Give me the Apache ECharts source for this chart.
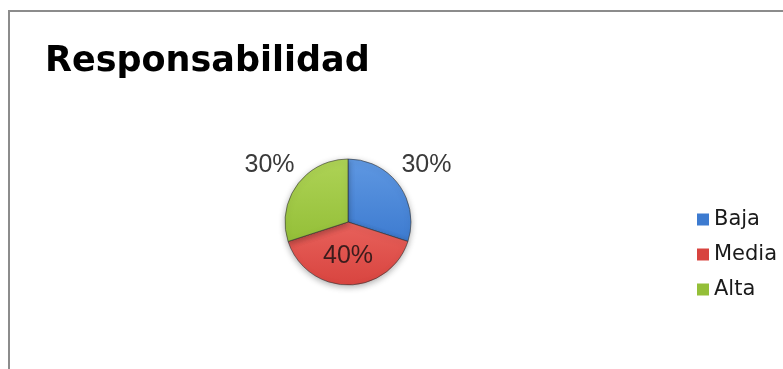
<!DOCTYPE html>
<html>
<head>
<meta charset="utf-8">
<script src="https://cdn.jsdelivr.net/npm/echarts@6/dist/echarts.min.js"></script>
<style>
  html, body { margin: 0; padding: 0; background: #ffffff; }
  #chart { width: 783px; height: 369px; }
</style>
</head>
<body>
<div id="chart"></div>
<script>
const titleText = 'Responsabilidad';
const categories = ['Baja', 'Media', 'Alta'];
const values = [30, 40, 30];
const sliceColors = ['#3d7bd0', '#d8443f', '#94bf38'];
const sliceColorsLight = ['#5f98e2', '#e8625c', '#aed356'];
const outsideLabelFor = ['Baja', 'Alta'];

const chart = echarts.init(document.getElementById('chart'), null, { renderer: 'canvas' });

function grad(i) {
  return new echarts.graphic.LinearGradient(0, 0, 0, 1, [
    { offset: 0, color: sliceColorsLight[i] },
    { offset: 1, color: sliceColors[i] }
  ]);
}

const mainData = categories.map((c, i) => ({
  name: c,
  value: values[i],
  itemStyle: { color: grad(i) },
  label: { show: outsideLabelFor.indexOf(c) < 0 }
}));

const labelData = categories.map((c, i) => ({
  name: c,
  value: values[i],
  label: { show: outsideLabelFor.indexOf(c) >= 0 }
}));

const labelFont = {
  fontFamily: '"Liberation Sans Narrow", "Liberation Sans", sans-serif',
  fontSize: 25
};

chart.setOption({
  animation: false,
  backgroundColor: '#ffffff',
  color: sliceColors,
  graphic: [{
    type: 'rect',
    silent: true,
    shape: { x: 9, y: 11, width: 820, height: 420 },
    style: { fill: 'none', stroke: '#8c8c8c', lineWidth: 2 }
  }],
  title: {
    text: titleText,
    left: 40,
    top: 39,
    textStyle: {
      fontFamily: '"DejaVu Sans", sans-serif',
      fontWeight: 'bold',
      fontSize: 35,
      color: '#000000'
    }
  },
  legend: {
    orient: 'vertical',
    left: 692,
    top: 204,
    icon: 'rect',
    itemWidth: 12,
    itemHeight: 12,
    itemGap: 14,
    data: categories.map((c, i) => ({ name: c, itemStyle: { color: sliceColors[i] } })),
    itemStyle: { borderWidth: 0, shadowBlur: 0 },
    textStyle: {
      fontFamily: '"DejaVu Sans", sans-serif',
      fontSize: 21,
      color: '#1a1a1a'
    }
  },
  series: [
    {
      type: 'pie',
      name: 'main',
      center: [348, 222],
      radius: [0, 63],
      startAngle: 90,
      clockwise: true,
      silent: true,
      data: mainData,
      itemStyle: {
        borderColor: 'rgba(50,50,50,0.6)',
        borderWidth: 1,
        shadowBlur: 6,
        shadowOffsetY: 2,
        shadowColor: 'rgba(0,0,0,0.3)'
      },
      label: Object.assign({
        position: 'inside',
        formatter: '{c}%',
        color: '#3a1c1c'
      }, labelFont),
      labelLine: { show: false }
    },
    {
      type: 'pie',
      name: 'labels',
      center: [348, 222],
      radius: [63, 125],
      startAngle: 90,
      clockwise: true,
      silent: true,
      data: labelData,
      itemStyle: { color: 'rgba(0,0,0,0)', borderWidth: 0 },
      label: Object.assign({
        position: 'inside',
        formatter: '{c}%',
        color: '#3a3a3a'
      }, labelFont),
      labelLine: { show: false },
      emphasis: { disabled: true }
    }
  ]
});
</script>
</body>
</html>
